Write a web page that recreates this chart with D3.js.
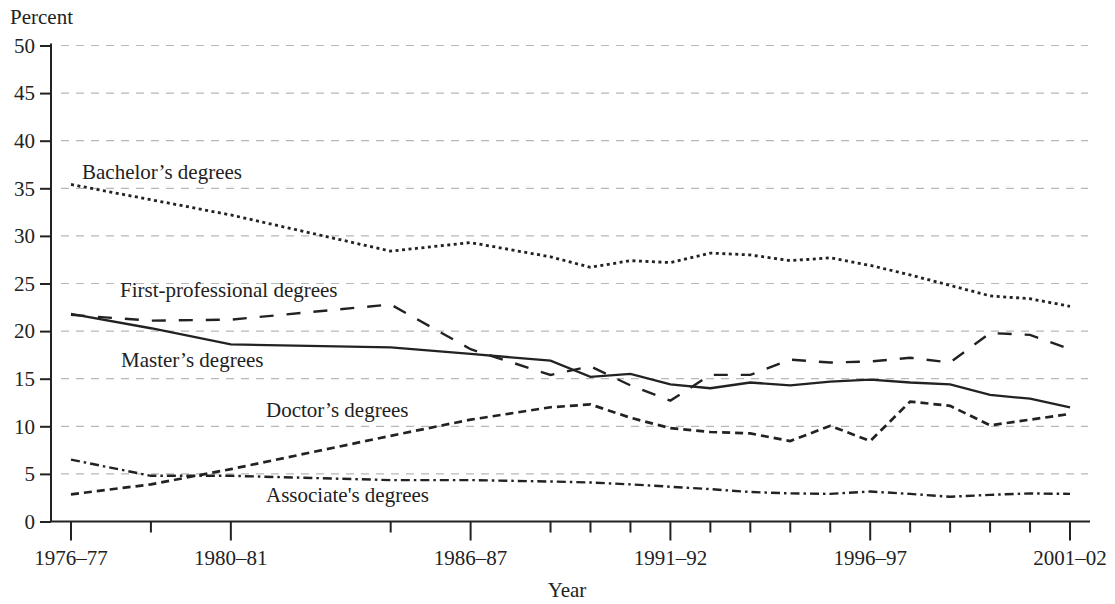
<!DOCTYPE html>
<html><head><meta charset="utf-8">
<script src="https://cdn.jsdelivr.net/npm/d3@7"></script>
<style>
html,body{margin:0;padding:0;background:#fff;}
svg text{font-family:"Liberation Serif","Times New Roman",serif;fill:#222;}
</style></head>
<body><svg id="chart" width="1115" height="604"></svg>
<script>
const years = [1976,1978,1980,1984,1986,1988,1989,1990,1991,1992,1993,1994,1995,1996,1997,1998,1999,2000,2001];
const labeledYears = [1976,1980,1986,1991,1996,2001];
const tickLabels = ["1976–77","1980–81","1986–87","1991–92","1996–97","2001–02"];
const yTicks = [0,5,10,15,20,25,30,35,40,45,50];

const bachelors = [35.4,33.8,32.2,28.4,29.3,27.8,26.7,27.4,27.2,28.2,28.0,27.4,27.7,26.9,25.9,24.8,23.7,23.4,22.6];
const masters   = [21.8,20.3,18.6,18.3,17.6,16.9,15.2,15.5,14.4,14.0,14.6,14.3,14.7,14.9,14.6,14.4,13.3,12.9,12.0];
const firstProf = [21.7,21.1,21.2,22.8,18.1,15.4,16.3,14.3,12.7,15.4,15.4,17.0,16.7,16.8,17.2,16.7,19.8,19.6,18.1];
const doctors   = [2.85,3.9,5.5,9.0,10.7,12.0,12.3,10.9,9.8,9.4,9.25,8.45,10.05,8.45,12.6,12.15,10.1,10.7,11.3];
const associates= [6.5,4.8,4.8,4.35,4.35,4.2,4.1,3.9,3.65,3.4,3.1,2.95,2.9,3.15,2.9,2.6,2.8,2.95,2.9];

const seriesNames = ["Bachelor’s degrees","First-professional degrees","Master’s degrees","Doctor’s degrees","Associate's degrees"];

const FS = 21;
const svg = d3.select("#chart");
const x = d3.scaleLinear().domain([1976,2001]).range([71,1070]);
const y = d3.scaleLinear().domain([0,50]).range([521.5,45.5]);
const xLeft = 51, xRight = 1090;

// gridlines
svg.append("g").selectAll("line").data(yTicks.filter(d=>d>0)).join("line")
  .attr("x1",xLeft+10).attr("x2",1088)
  .attr("y1",d=>y(d)).attr("y2",d=>y(d))
  .attr("stroke","#b8b8b8").attr("stroke-width",1.2).attr("stroke-dasharray","8,7");

// y axis
const yAxis = svg.append("g").attr("transform",`translate(${xLeft},0)`)
  .call(d3.axisLeft(y).tickValues(yTicks).tickSize(11).tickPadding(5).tickFormat(d3.format("d")));
yAxis.select(".domain").attr("d",`M0,${y(50)-2}V${y(0)}`).attr("stroke","#222").attr("stroke-width",2);
yAxis.selectAll(".tick line").attr("stroke","#222").attr("stroke-width",2);
yAxis.selectAll(".tick text").attr("font-size",FS).attr("fill","#222")
  .attr("font-family","Liberation Serif, Times New Roman, serif");

// x axis
const xg = svg.append("g").attr("transform",`translate(0,${y(0)})`);
xg.append("line").attr("x1",xLeft).attr("x2",xRight).attr("y1",0).attr("y2",0)
  .attr("stroke","#222").attr("stroke-width",2);
xg.selectAll("line.tk").data(years).join("line").attr("class","tk")
  .attr("x1",d=>x(d)).attr("x2",d=>x(d)).attr("y1",0)
  .attr("y2",d=>labeledYears.includes(d)?19:11)
  .attr("stroke","#222").attr("stroke-width",2);
xg.selectAll("text").data(labeledYears).join("text")
  .attr("x",d=>x(d)).attr("y",43).attr("text-anchor","middle")
  .attr("font-size",FS).text((d,i)=>tickLabels[i]);

svg.append("text").attr("x",567).attr("y",597).attr("text-anchor","middle").attr("font-size",FS).text("Year");
svg.append("text").attr("x",10).attr("y",24).attr("font-size",FS).text("Percent");

// lines
const data = [bachelors, firstProf, masters, doctors, associates];
const dashes = ["3,3.5","14,13",null,"8,5","9,4,2.5,4"];
const widths = [2.8,2.4,2.3,2.7,2.4];
const line = d3.line().x((d,i)=>x(years[i])).y(d=>y(d));
svg.append("g").selectAll("path").data(data).join("path")
  .attr("d",d=>line(d)).attr("fill","none").attr("stroke","#222")
  .attr("stroke-width",(d,i)=>widths[i])
  .attr("stroke-dasharray",(d,i)=>dashes[i]);

// series labels
const labelPos = [[82,179],[120,297],[121,367],[266,417],[266,502]];
svg.append("g").selectAll("text").data(seriesNames).join("text")
  .attr("x",(d,i)=>labelPos[i][0]).attr("y",(d,i)=>labelPos[i][1])
  .attr("font-size",FS).text(d=>d);
</script></body></html>
